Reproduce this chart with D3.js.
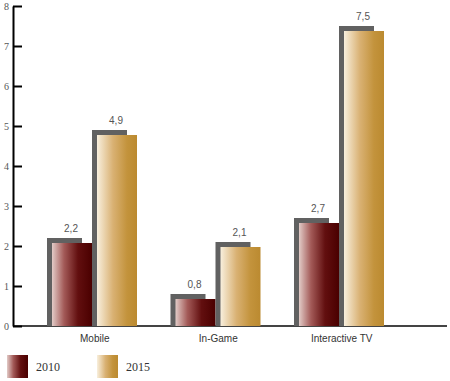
<!DOCTYPE html>
<html>
<head>
<meta charset="utf-8">
<script src="https://cdn.jsdelivr.net/npm/d3@7"></script>
<style>
  html, body { margin: 0; padding: 0; background: #fff; }
  svg { display: block; }
</style>
</head>
<body>
<svg id="chart" width="450" height="381"></svg>
<script>
const categories = ["Mobile", "In-Game", "Interactive TV"];
const series = ["2010", "2015"];
const values2010 = [2.2, 0.8, 2.7];
const values2015 = [4.9, 2.1, 7.5];
const valueLabels2010 = ["2,2", "0,8", "2,7"];
const valueLabels2015 = ["4,9", "2,1", "7,5"];
const yTicks = [0, 1, 2, 3, 4, 5, 6, 7, 8];

const svg = d3.select("#chart");
const defs = svg.append("defs");

function grad(id, stops) {
  const g = defs.append("linearGradient").attr("id", id)
    .attr("x1", "0%").attr("x2", "100%").attr("y1", "0%").attr("y2", "0%");
  stops.forEach(s => g.append("stop").attr("offset", s[0]).attr("stop-color", s[1]));
}
grad("g2010", [["0%", "#e2cbc7"], ["30%", "#a35a58"], ["65%", "#620f0f"], ["100%", "#4a0000"]]);
grad("g2015", [["0%", "#f8efdd"], ["40%", "#d9b173"], ["75%", "#c3933c"], ["100%", "#bb8a30"]]);
const fills = { "2010": "url(#g2010)", "2015": "url(#g2015)" };

const y = d3.scaleLinear().domain([0, 8]).range([326, 6]);
const x0 = d3.scaleBand().domain(categories).range([30, 400.5]).padding(0);
const x1 = d3.scaleBand().domain(series).range([17, 107]).padding(0);

const data = categories.map((c, i) => ({
  cat: c,
  bars: [
    { s: "2010", v: values2010[i], label: valueLabels2010[i] },
    { s: "2015", v: values2015[i], label: valueLabels2015[i] }
  ]
}));

// baseline
svg.append("line")
  .attr("x1", 13).attr("x2", 447)
  .attr("y1", y(0)).attr("y2", y(0))
  .attr("stroke", "#444").attr("stroke-width", 2);

const groups = svg.selectAll("g.grp").data(data).enter().append("g")
  .attr("class", "grp")
  .attr("transform", d => `translate(${x0(d.cat)},0)`);

const bars = groups.selectAll("g.bar").data(d => d.bars).enter().append("g").attr("class", "bar");

const shadowW = 35, barW = 40, off = 5;
bars.append("rect")
  .attr("x", d => x1(d.s))
  .attr("y", d => y(d.v))
  .attr("width", shadowW)
  .attr("height", d => y(0) - y(d.v))
  .attr("fill", "#616161");
bars.append("rect")
  .attr("x", d => x1(d.s) + off)
  .attr("y", d => y(d.v) + off)
  .attr("width", barW)
  .attr("height", d => y(0) - y(d.v) - off)
  .attr("fill", d => fills[d.s]);
bars.append("text")
  .attr("x", d => x1(d.s) + 24)
  .attr("y", d => y(d.v) - 6)
  .attr("text-anchor", "middle")
  .attr("font-family", "Liberation Sans, Arial, sans-serif")
  .attr("font-size", 10)
  .attr("fill", "#555")
  .text(d => d.label);

// category labels
svg.selectAll("text.cat").data(categories).enter().append("text")
  .attr("class", "cat")
  .attr("x", d => x0(d) + x0.bandwidth() / 2 + 3)
  .attr("y", 342)
  .attr("text-anchor", "middle")
  .attr("font-family", "Liberation Sans, Arial, sans-serif")
  .attr("font-size", 10)
  .attr("fill", "#333")
  .text(d => d);

// y axis
const yAxis = d3.axisLeft(y).tickValues(yTicks).tickSizeInner(-9).tickSizeOuter(0).tickPadding(4)
  .tickFormat(d3.format("d"));
const ag = svg.append("g").attr("transform", "translate(13,0)").call(yAxis);
ag.select(".domain").attr("stroke", "#000").attr("stroke-width", 2);
ag.selectAll(".tick line").attr("stroke", "#000").attr("stroke-width", 2);
ag.selectAll(".tick text")
  .attr("font-family", "Liberation Serif, serif")
  .attr("font-size", 10)
  .attr("fill", "#555");

// legend
const legend = svg.append("g");
const legItems = legend.selectAll("g").data(series).enter().append("g")
  .attr("transform", (d, i) => `translate(${7 + i * 90},355)`);
legItems.append("rect").attr("width", 21).attr("height", 23).attr("fill", d => fills[d]);
legItems.append("text")
  .attr("x", 29).attr("y", 16)
  .attr("font-family", "Liberation Serif, serif")
  .attr("font-size", 12)
  .attr("fill", "#333")
  .text(d => d);
</script>
</body>
</html>
